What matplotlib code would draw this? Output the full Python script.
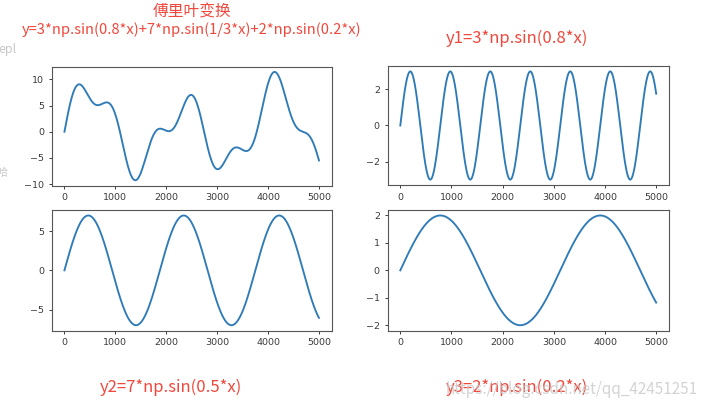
import numpy as np
import matplotlib.pyplot as plt

plt.rcParams['font.family'] = ['DejaVu Sans']

# sine components: amplitude and angular frequency, x runs over 5000 samples
amps = [3, 7, 2]
freqs = [0.8, 1 / 3, 0.2]
x_end = 16 * np.pi
n_points = 5000

titles = ["y1=3*np.sin(0.8*x)", "y2=7*np.sin(0.5*x)", "y3=2*np.sin(0.2*x)"]
main_title = "傅里叶变换"
sum_title = "y=3*np.sin(0.8*x)+7*np.sin(1/3*x)+2*np.sin(0.2*x)"

x = np.linspace(0, x_end, n_points)
ys = [a * np.sin(f * x) for a, f in zip(amps, freqs)]
y_sum = ys[0] + ys[1] + ys[2]

W, H = 702, 409
fig = plt.figure(figsize=(W / 100, H / 100), dpi=100)


def px_axes(left, top, right, bottom):
    return fig.add_axes([left / W, 1 - bottom / H, (right - left) / W, (bottom - top) / H])


boxes = [
    (51.7, 66.5, 331.7, 185.7),
    (387.5, 66.0, 669.0, 185.0),
    (51.7, 210.0, 331.7, 330.7),
    (387.5, 210.0, 669.0, 330.7),
]
series = [y_sum, ys[0], ys[1], ys[2]]

for box, y in zip(boxes, series):
    ax = px_axes(*box)
    ax.plot(y, color='#2f7bb8', lw=1.35)
    ax.set_xticks([0, 1000, 2000, 3000, 4000, 5000])
    ax.tick_params(labelsize=6.8, length=2.5, width=0.7, colors='#3a3a3a', pad=3)
    for s in ax.spines.values():
        s.set_color('#555555')
        s.set_linewidth(0.8)

red = '#f0483c'
cjk = ['Noto Sans CJK SC', 'DejaVu Sans']
fig.text(192 / W, 1 - 12 / H, main_title, color=red, fontsize=11.3, family=cjk,
         ha='center', va='center')
fig.text(192 / W, 1 - 30 / H, sum_title, color=red, fontsize=10.6, family=cjk,
         ha='center', va='center')
fig.text(517 / W, 1 - 38 / H, titles[0], color=red, fontsize=12, family=cjk,
         ha='center', va='center')
fig.text(171 / W, 1 - 387 / H, titles[1], color=red, fontsize=12, family=cjk,
         ha='center', va='center')
fig.text(517 / W, 1 - 387 / H, titles[2], color=red, fontsize=12, family=cjk,
         ha='center', va='center')

# screenshot leftovers
fig.text(572 / W, 1 - 389 / H, "https://blog.csdn.net/qq_42451251", color='#cccccc',
         fontsize=11, family=cjk, ha='center', va='center', alpha=0.85)
fig.text(-2 / W, 1 - 50 / H, "epl", color='#c8c8c8', fontsize=9, family=cjk, va='center')
fig.text(-4 / W, 1 - 173 / H, "哈", color='#c8c8c8', fontsize=8, family=cjk, va='center')

fig.savefig('out.png', dpi=100)
